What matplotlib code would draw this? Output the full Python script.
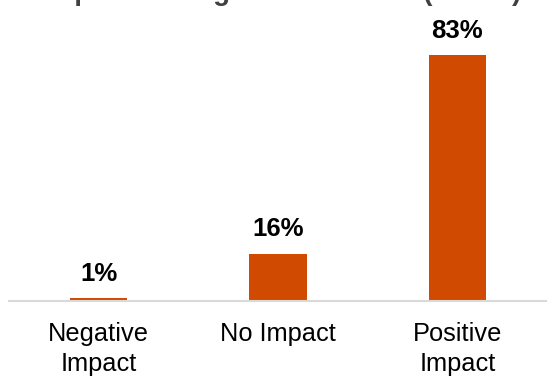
import matplotlib
matplotlib.use("Agg")
import matplotlib.pyplot as plt

plt.rcParams['font.family'] = ['Liberation Sans', 'DejaVu Sans']

categories = ["Negative\nImpact", "No Impact", "Positive\nImpact"]
values = [1, 16, 83]
labels = ["1%", "16%", "83%"]
title = "Impact on Org Performance  (n=100)"

fig = plt.figure(figsize=(5.47, 3.76), dpi=100)
ax = fig.add_axes([9 / 547, 75 / 376, 1 - 9 / 547, 1 - 75 / 376])

x = range(len(values))
bars = ax.bar(x, values, width=0.32, color='#D04A02')
for b, lab in zip(bars, labels):
    ax.annotate(lab, (b.get_x() + b.get_width() / 2, b.get_height()),
                xytext=(0, 9), textcoords='offset points',
                ha='center', va='bottom', fontsize=18.5, fontweight='bold', color='black')

ax.set_xlim(-0.5, 2.5)
ax.set_ylim(0, 101.7)
ax.set_xticks(list(x))
ax.set_xticklabels(categories, fontsize=18.3, color='black', linespacing=1.3)
ax.tick_params(axis='x', length=0, pad=15)
ax.set_yticks([])
for s in ['top', 'left', 'right']:
    ax.spines[s].set_visible(False)
ax.spines['bottom'].set_color('#D9D9D9')
ax.spines['bottom'].set_linewidth(1.5)

# title sits mostly above the canvas, only descenders show
fig.text(0.515, 1.0, title, ha='center', va='baseline', fontsize=20,
         fontweight='bold', color='#404040')

fig.savefig("out.png", dpi=100)
